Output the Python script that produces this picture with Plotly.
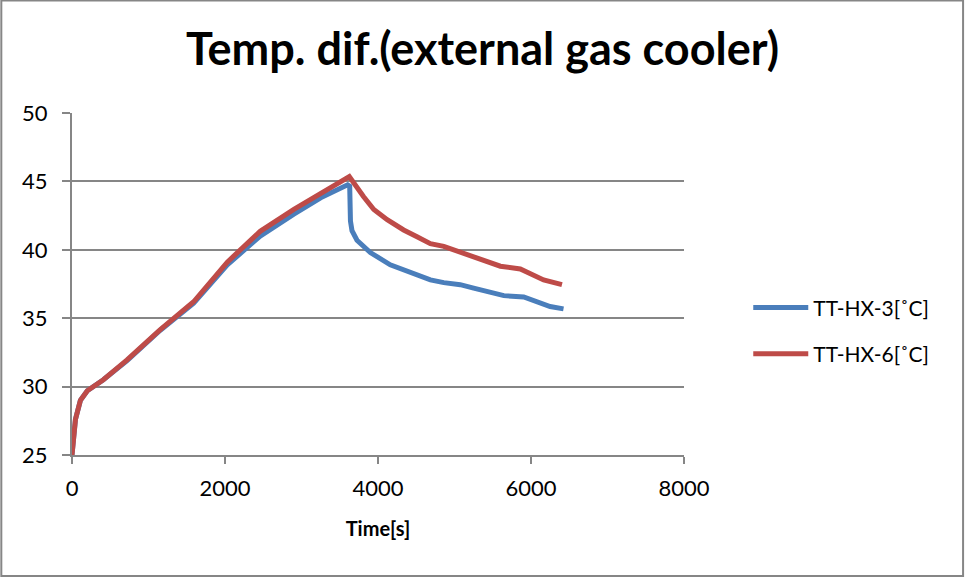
import plotly.graph_objects as go

# TT-HX-3 (blue)
time_hx3 = [0, 20, 45, 110, 200, 410, 720, 1150, 1590, 2030, 2460, 2900, 3250, 3603,
            3630, 3640, 3660, 3725, 3900, 4160, 4420, 4685, 4860, 5075, 5250, 5425, 5645,
            5905, 6080, 6250, 6425]
temp_hx3 = [25.0, 26.6, 27.6, 29.0, 29.7, 30.5, 31.9, 34.1, 36.1, 38.9, 41.0, 42.6, 43.8, 44.75,
            44.65, 42.1, 41.4, 40.7, 39.8, 38.9, 38.4, 37.8, 37.6, 37.45, 37.2, 36.95, 36.65,
            36.55, 36.2, 35.85, 35.68]

# TT-HX-6 (red)
time_hx6 = [0, 20, 45, 110, 200, 410, 720, 1150, 1590, 2030, 2460, 2900, 3250, 3625,
            3810, 3945, 4120, 4335, 4510, 4685, 4860, 5035, 5205, 5380, 5600, 5860,
            5990, 6165, 6405]
temp_hx6 = [25.0, 26.6, 27.6, 29.0, 29.7, 30.5, 31.95, 34.15, 36.2, 39.1, 41.35, 42.95, 44.15, 45.36,
            43.9, 42.95, 42.2, 41.45, 40.95, 40.45, 40.25, 39.9, 39.5, 39.15, 38.8, 38.6,
            38.3, 37.8, 37.45]

fig = go.Figure()
fig.add_trace(go.Scatter(x=time_hx3, y=temp_hx3, mode="lines", name="TT-HX-3[˚C]",
                         legendgroup="a", line=dict(color="#4A7EBB", width=5)))
fig.add_trace(go.Scatter(x=time_hx6, y=temp_hx6, mode="lines", name="TT-HX-6[˚C]",
                         legendgroup="b", line=dict(color="#BE4B48", width=5)))

fig.update_layout(
    width=965, height=578,
    margin=dict(l=72, r=281, t=113, b=123),
    paper_bgcolor="white", plot_bgcolor="white",
    font=dict(family="Lato, Open Sans, sans-serif", color="black", size=22),
    title=dict(text="<b>Temp. dif.(external gas cooler)</b>", xref="container", x=0.5,
               xanchor="center", y=0.915, yanchor="middle",
               font=dict(size=45, family="Lato, sans-serif")),
    legend=dict(x=1.105, y=0.363, xanchor="left", yanchor="middle",
                font=dict(size=21), tracegroupgap=16, itemwidth=55),
    showlegend=True,
)

fig.update_xaxes(range=[0, 8000], tickvals=[0, 2000, 4000, 6000, 8000],
                 showgrid=False, zeroline=False, showline=True, linecolor="#868686",
                 linewidth=2, ticks="outside", tickcolor="#868686", ticklen=7, tickwidth=2,
                 ticklabelstandoff=6,
                 title=dict(text="<b>Time[s]</b>", font=dict(size=20), standoff=22))
fig.update_yaxes(range=[25, 50], tickvals=[25, 30, 35, 40, 45, 50],
                 showgrid=True, gridcolor="#868686", gridwidth=2, zeroline=False,
                 showline=True, linecolor="#868686", linewidth=2,
                 ticks="outside", tickcolor="#868686", ticklen=8, tickwidth=2,
                 ticklabelstandoff=10)

# outer chart border
fig.add_shape(type="rect", xref="paper", yref="paper",
              x0=-0.1155, x1=1.456, y0=-0.354, y1=1.3287,
              line=dict(color="#868686", width=2), fillcolor="rgba(0,0,0,0)")

# remove the default page margin so the chart starts at the window corner
fig.write_html("out.html", config={"displayModeBar": False},
               post_script="document.body.style.margin='0';")
